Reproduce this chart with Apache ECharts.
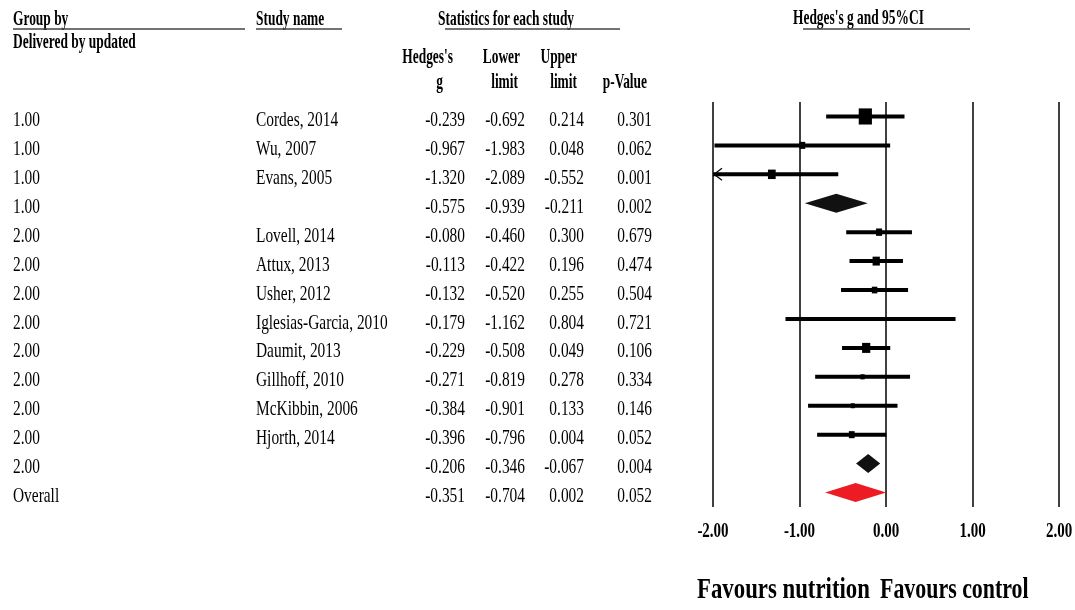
<!DOCTYPE html>
<html>
<head>
<meta charset="utf-8">
<title>Forest plot: Hedges's g and 95% CI</title>
<script src="https://cdn.jsdelivr.net/npm/echarts@6/dist/echarts.min.js"></script>
<style>
  html, body { margin: 0; padding: 0; background: #ffffff; }
  #chart { width: 1075px; height: 610px; }
</style>
</head>
<body>
<div id="chart"></div>
<script>
// ---- Data -------------------------------------------------------------
const groups = ['1.00', '1.00', '1.00', '1.00', '2.00', '2.00', '2.00', '2.00',
                '2.00', '2.00', '2.00', '2.00', '2.00', 'Overall'];
const studies = ['Cordes, 2014', 'Wu, 2007', 'Evans, 2005', '', 'Lovell, 2014',
                 'Attux, 2013', 'Usher, 2012', 'Iglesias-Garcia, 2010', 'Daumit, 2013',
                 'Gillhoff, 2010', 'McKibbin, 2006', 'Hjorth, 2014', '', ''];
const hedgesG = [-0.239, -0.967, -1.320, -0.575, -0.080, -0.113, -0.132, -0.179,
                 -0.229, -0.271, -0.384, -0.396, -0.206, -0.351];
const lowerLimit = [-0.692, -1.983, -2.089, -0.939, -0.460, -0.422, -0.520, -1.162,
                    -0.508, -0.819, -0.901, -0.796, -0.346, -0.704];
const upperLimit = [0.214, 0.048, -0.552, -0.211, 0.300, 0.196, 0.255, 0.804,
                    0.049, 0.278, 0.133, 0.004, -0.067, 0.002];
const pValues = [0.301, 0.062, 0.001, 0.002, 0.679, 0.474, 0.504, 0.721,
                 0.106, 0.334, 0.146, 0.052, 0.004, 0.052];
// 'study' = single trial, 'subgroup' = pooled subgroup, 'overall' = pooled total
const rowKinds = ['study', 'study', 'study', 'subgroup', 'study', 'study', 'study', 'study',
                  'study', 'study', 'study', 'study', 'subgroup', 'overall'];
// relative weight of each trial (drives the box area)
const relWeights = [21.0, 4.0, 7.2, 0, 4.4, 6.4, 3.6, 0.9, 8.1, 2.1, 2.0, 4.0, 0, 0];
const tickValues = [-2, -1, 0, 1, 2];
const tickLabels = ['-2.00', '-1.00', '0.00', '1.00', '2.00'];

// ---- Styling ----------------------------------------------------------
const SERIF = '"Liberation Serif", "Times New Roman", Times, serif';
const BODY_SIZE = 22, BODY_SCALE = 0.7;
const HEAD_SIZE = 22, HEAD_SCALE = 0.61;
const TEXT_DY = 3.8;             // text sits slightly below the row's line
const COLS = [
  { get: i => groups[i],               x: 13,  align: 'left'  },
  { get: i => studies[i],              x: 256, align: 'left'  },
  { get: i => hedgesG[i].toFixed(3),   x: 465, align: 'right' },
  { get: i => lowerLimit[i].toFixed(3),x: 525, align: 'right' },
  { get: i => upperLimit[i].toFixed(3),x: 584, align: 'right' },
  { get: i => pValues[i].toFixed(3),   x: 652, align: 'right' }
];
const rowIdx = groups.map((_, i) => i);

function bodyText(str, x, y, align) {
  return {
    type: 'text', x: x, y: y, scaleX: BODY_SCALE, silent: true,
    style: { text: str, fontFamily: SERIF, fontSize: BODY_SIZE, fill: '#000',
             align: align, verticalAlign: 'middle' }
  };
}
function headText(str, x, y, align) {
  return {
    type: 'text', x: x, y: y, scaleX: HEAD_SCALE, silent: true,
    style: { text: str, fontFamily: SERIF, fontSize: HEAD_SIZE, fontWeight: 'bold',
             fill: '#000', align: align || 'left', verticalAlign: 'middle' }
  };
}
function rule(x1, x2, y) {
  return { type: 'line', silent: true,
           shape: { x1: x1, y1: y, x2: x2, y2: y },
           style: { stroke: '#444', lineWidth: 1.6 } };
}

// ---- Chart ------------------------------------------------------------
const chart = echarts.init(document.getElementById('chart'), null, { renderer: 'canvas' });

const option = {
  animation: false,
  backgroundColor: '#ffffff',
  grid: { left: 713, right: 16, top: 102, bottom: 103 },
  xAxis: {
    type: 'value', min: -2, max: 2, interval: 1,
    axisLine: { show: false }, axisTick: { show: false }, axisLabel: { show: false },
    splitLine: { show: true, lineStyle: { color: '#111', width: 1.6 } }
  },
  yAxis: {
    type: 'value', min: -0.5, max: groups.length - 0.5, inverse: true,
    show: false, splitLine: { show: false }
  },
  graphic: [
    headText('Group by', 13, 19.5), rule(13, 245, 29),
    headText('Study name', 256, 19.5), rule(256, 342, 29),
    headText('Statistics for each study', 438, 19), rule(445, 620, 29),
    headText("Hedges's g and 95%CI", 793, 18.5), rule(803, 970, 29),
    headText('Delivered by updated', 13, 42.5),
    headText("Hedges's", 453, 57.5, 'right'), headText('g', 443, 82.5, 'right'),
    headText('Lower', 520, 57.5, 'right'), headText('limit', 518, 82.5, 'right'),
    headText('Upper', 577, 57.5, 'right'), headText('limit', 577, 82.5, 'right'),
    headText('p-Value', 647, 82.5, 'right'),
    {
      type: 'text', x: 697, y: 590, scaleX: 0.76, silent: true,
      style: { text: 'Favours nutrition', fontFamily: SERIF, fontSize: 30, fontWeight: 'bold',
               fill: '#000', align: 'left', verticalAlign: 'middle' }
    },
    {
      type: 'text', x: 880, y: 590, scaleX: 0.73, silent: true,
      style: { text: 'Favours control', fontFamily: SERIF, fontSize: 30, fontWeight: 'bold',
               fill: '#000', align: 'left', verticalAlign: 'middle' }
    }
  ],
  series: [
    // Table of group, study name and statistics, one line per row
    {
      type: 'custom', name: 'table', silent: true, clip: false,
      data: rowIdx.map(i => [0, i]),
      encode: { x: 0, y: 1 },
      renderItem: function (params, api) {
        const i = params.dataIndex;
        const y = api.coord([0, i])[1] + TEXT_DY;
        return {
          type: 'group',
          children: COLS.map(c => bodyText(c.get(i), c.x, y, c.align))
        };
      }
    },
    // Confidence intervals, weight boxes and pooled diamonds
    {
      type: 'custom', name: 'forest', silent: true, clip: false,
      data: rowIdx.map(i => [hedgesG[i], i, lowerLimit[i], upperLimit[i], relWeights[i]]),
      encode: { x: [0, 2, 3], y: 1 },
      renderItem: function (params, api) {
        const i = params.dataIndex;
        const kind = rowKinds[i];
        const xMin = -2;
        const c = api.coord([api.value(0), api.value(1)]);
        const lo = api.coord([Math.max(api.value(2), xMin), api.value(1)]);
        const hi = api.coord([api.value(3), api.value(1)]);
        if (kind !== 'study') {
          const h = 9.5;
          return {
            type: 'polygon',
            shape: { points: [[lo[0], c[1]], [c[0], c[1] - h], [hi[0], c[1]], [c[0], c[1] + h]] },
            style: { fill: kind === 'overall' ? '#ED1C24' : '#111111' }
          };
        }
        const side = Math.sqrt(api.value(4)) * 3.2;
        const w = side * 0.9, hgt = side * 1.1;
        const children = [
          { type: 'line', shape: { x1: lo[0], y1: c[1], x2: hi[0], y2: c[1] },
            style: { stroke: '#000', lineWidth: 4 } },
          { type: 'rect', shape: { x: c[0] - w / 2, y: c[1] - hgt / 2, width: w, height: hgt },
            style: { fill: '#000' } }
        ];
        if (api.value(2) < xMin) {
          // interval runs past the axis: draw an arrow head at the left edge
          children.push({
            type: 'polyline',
            shape: { points: [[lo[0] + 9, c[1] - 6], [lo[0] + 1, c[1]], [lo[0] + 9, c[1] + 6]] },
            style: { stroke: '#000', lineWidth: 1.2, fill: null }
          });
        }
        return { type: 'group', children: children };
      }
    },
    // Tick labels of the effect-size scale
    {
      type: 'custom', name: 'ticks', silent: true, clip: false,
      data: tickValues.map((v, k) => [v, groups.length - 1, k]),
      encode: { x: 0, y: 1 },
      renderItem: function (params, api) {
        const p = api.coord([api.value(0), api.value(1)]);
        const cs = params.coordSys;
        return {
          type: 'text', x: p[0], y: cs.y + cs.height + 24.5, scaleX: 0.75,
          style: { text: tickLabels[api.value(2)], fontFamily: SERIF, fontSize: 20,
                   fontWeight: 'bold', fill: '#000', align: 'center', verticalAlign: 'middle' }
        };
      }
    }
  ]
};

chart.setOption(option);
</script>
</body>
</html>
